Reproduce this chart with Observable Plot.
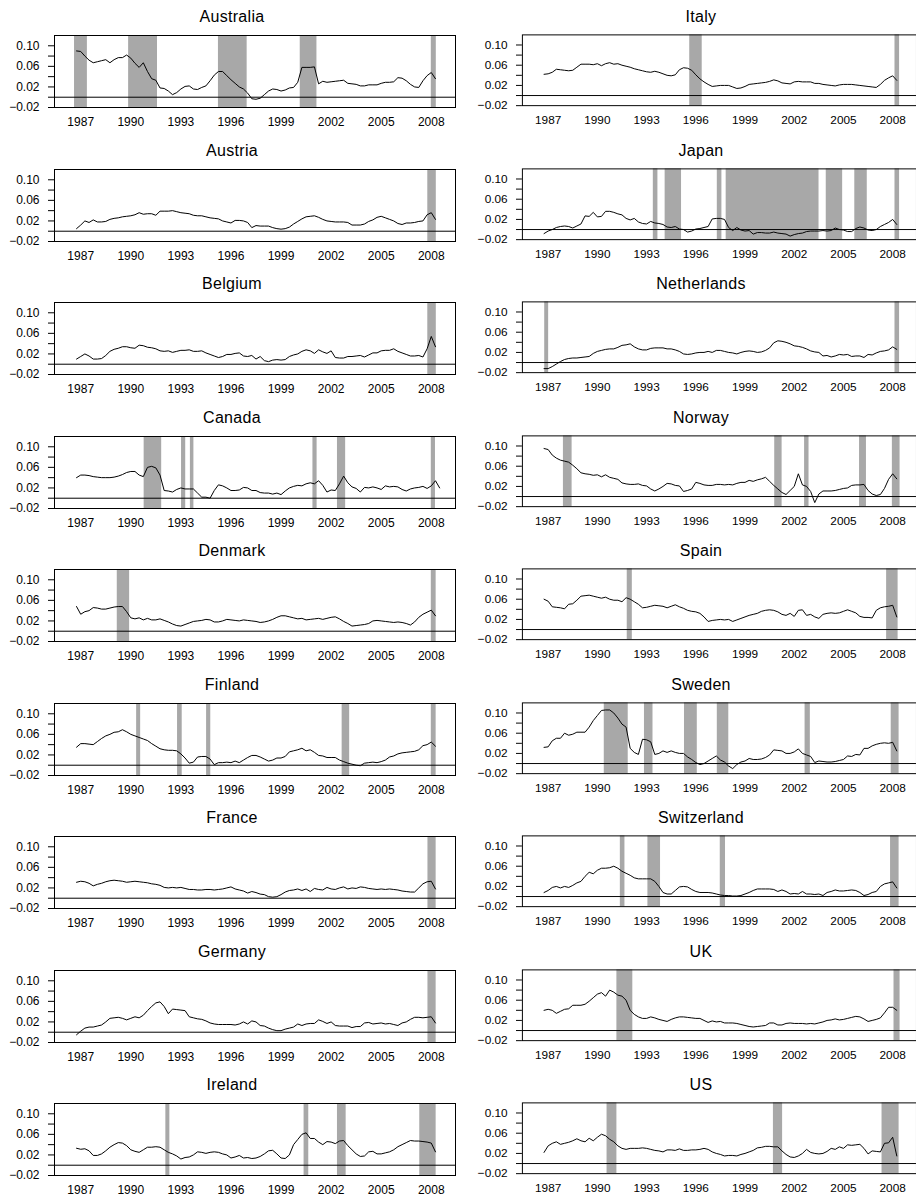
<!DOCTYPE html>
<html><head><meta charset="utf-8">
<script src="https://cdn.jsdelivr.net/npm/d3@7"></script>
<script src="https://cdn.jsdelivr.net/npm/@observablehq/plot@0.6"></script>
<style>
html,body{margin:0;padding:0;background:#fff;overflow:hidden;}
#root{position:relative;width:916px;height:1198px;overflow:hidden;font-family:"Liberation Sans",Arial,sans-serif;}
.panel{position:absolute;}
.title{position:absolute;width:300px;text-align:center;font-size:16px;line-height:18px;color:#000;letter-spacing:0.3px;}
</style></head>
<body><div id="root"></div>
<script>
// Quarterly series, values in thousandths (x1000), first quarter 1986Q4 (1986.75)
const firstQuarter = 1986.75;
const xTicks = [1987, 1990, 1993, 1996, 1999, 2002, 2005, 2008];
const yTicks = [-0.02, 0, 0.02, 0.04, 0.06, 0.08, 0.10];
const yLabels = [-0.02, 0.02, 0.06, 0.10];

const australia = [90, 89,80,72,67, 69,71,73,67, 73,77,77,82, 76,66,58,67, 50,36,33,18, 17,12,5,9, 16,21,22,16, 15,19,22,32, 43,50,50,42, 34,27,20,16, 8,-3,-4,-2, 5,12,16,15, 12,14,18,19, 29,58,58,58, 59,26,31,29, 30,31,32,33, 27,26,25,22, 22,24,24,24, 27,29,29,30, 38,37,32,25, 20,19,32,42, 48,36];
const austria = [5, 12,20,17,22, 18,18,19,23, 25,26,28,29, 30,32,36,33, 34,34,31,39, 39,39,40,38, 36,35,34,31, 30,30,28,26, 25,24,20,18, 16,21,21,20, 17,7,11,10, 10,10,7,5, 4,5,8,14, 19,24,28,29, 30,27,23,20, 19,18,18,18, 17,12,12,12, 14,19,22,27, 29,26,23,20, 15,13,16,16, 17,19,20,32, 36,23];
const belgium = [10, 15,20,16,10, 10,11,17,25, 29,31,34,34, 32,31,37,36, 33,32,30,26, 25,26,23,25, 27,27,28,25, 25,26,22,19, 16,13,15,19, 19,21,22,16, 15,17,10,15, 7,5,8,9, 8,9,15,18, 20,25,28,26, 21,28,24,21, 26,13,12,12, 15,15,16,17, 14,18,22,22, 26,27,27,30, 25,22,19,16, 16,17,14,30, 54,34];
const canada = [40, 45,45,44,42, 41,40,40,40, 41,43,46,50, 52,52,45,42, 60,62,59,45, 15,14,12,17, 20,18,18,18, 10,2,2,0, 15,26,24,20, 15,15,16,21, 20,15,15,11, 10,10,8,10, 7,14,20,23, 25,24,28,30, 28,34,25,12, 16,15,28,43, 30,22,19,12, 21,20,22,20, 17,24,22,23, 22,17,14,18, 20,21,23,19, 24,34,20];
const denmark = [48, 33,38,40,46, 45,43,43,45, 47,48,48,38, 26,24,26,22, 25,22,22,24, 21,18,14,11, 10,13,16,19, 20,21,23,22, 18,18,20,23, 22,21,20,22, 21,20,19,17, 18,20,23,27, 30,30,28,26, 24,25,22,23, 24,25,23,25, 27,28,24,19, 15,10,11,12, 13,15,20,21, 20,19,18,17, 18,17,15,12, 18,27,33,37, 41,30];
const finland = [35, 42,42,41,40, 46,52,57,60, 64,65,69,65, 60,57,54,51, 48,42,37,32, 30,29,29,28, 22,14,4,6, 16,17,17,12, 1,5,5,6, 5,8,5,10, 15,19,19,16, 12,8,10,14, 14,17,26,28, 30,33,28,30, 25,19,18,15, 15,15,10,7, 4,2,0,-1, 4,5,6,5, 7,10,16,18, 22,24,25,26, 27,30,38,40, 45,37];
const france = [31, 33,32,29,24, 27,29,32,34, 35,34,33,31, 32,33,32,31, 30,28,27,25, 21,20,21,20, 21,19,17,17, 16,16,17,17, 16,17,18,20, 22,18,16,14, 10,13,11,8, 7,3,2,3, 7,12,15,16, 18,15,18,13, 19,17,16,21, 18,17,20,22, 18,20,19,22, 21,19,18,17, 18,17,18,17, 16,14,13,12, 12,20,28,32, 33,18];
const germany = [-5, 2,8,10,10, 12,14,20,27, 28,29,27,24, 27,30,28,33, 42,50,57,59, 50,36,45,44, 43,42,30,28, 26,25,22,18, 16,15,15,15, 15,14,16,20, 16,22,20,13, 12,8,5,3, 3,6,8,10, 16,13,16,17, 17,24,21,17, 20,13,12,12, 12,9,11,11, 18,19,16,17, 18,16,17,15, 13,18,20,25, 29,29,28,29, 30,18];
const ireland = [33, 31,32,28,19, 19,22,28,35, 40,44,43,38, 30,27,25,30, 35,35,36,35, 30,25,22,18, 12,15,16,20, 26,25,23,25, 26,25,22,20, 14,16,19,14, 15,13,14,17, 22,28,29,22, 14,13,20,40, 50,60,63,52, 52,45,40,46, 45,42,47,48, 38,30,22,17, 18,26,27,22, 22,24,26,30, 36,40,44,48, 47,47,46,45, 43,26];
const italy = [42, 43,46,52,51, 50,49,50,56, 62,62,62,61, 63,59,63,65, 62,63,60,58, 56,53,51,49, 47,46,48,46, 43,40,39,41, 51,55,54,50, 41,33,27,22, 18,19,20,20, 20,17,14,15, 18,22,23,24, 25,26,28,31, 29,25,24,23, 27,28,27,27, 27,24,24,22, 21,20,19,21, 22,22,22,21, 20,19,18,17, 16,22,30,35, 39,30];
const japan = [-8, -3,0,4,6, 7,6,3,7, 11,27,26,34, 25,26,36,36, 34,31,29,22, 19,22,15,12, 11,16,13,12, 10,5,4,6, 1,0,-5,-3, 1,2,4,6, 21,22,22,20, 4,-2,4,-1, -3,-2,-9,-6, -6,-7,-7,-5, -7,-8,-9,-13, -10,-8,-7,-4, -3,-3,-3,-2, -3,-2,3,0, -1,-4,-4,2, 5,3,-1,-2, 0,6,10,14, 20,10];
const netherlands = [-12, -12,-8,-3,2, 6,8,9,9, 10,11,12,18, 22,24,26,27, 27,30,34,35, 37,31,27,25, 25,28,29,29, 29,27,27,25, 22,17,16,17, 19,20,20,22, 20,24,24,22, 20,19,17,20, 22,23,22,20, 21,24,29,39, 43,42,40,37, 33,32,30,27, 23,21,20,13, 14,11,13,16, 15,16,12,13, 13,10,16,15, 19,22,23,25, 31,26];
const norway = [95, 93,82,76,72, 70,68,62,55, 47,45,44,42, 43,39,43,38, 36,34,27,25, 24,24,25,22, 21,15,11,15, 20,26,25,22, 21,10,12,15, 28,26,23,22, 22,24,24,23, 24,23,26,28, 28,32,30,33, 35,38,30,22, 15,8,4,12, 20,45,23,20, 10,-12,5,11, 11,11,12,14, 16,17,22,23, 23,24,12,5, 2,4,16,34, 45,35];
const spain = [60, 56,45,44,43, 41,50,51,58, 66,67,68,66, 64,62,64,60, 58,58,55,63, 60,55,50,43, 44,46,48,47, 46,43,46,49, 45,42,38,36, 35,32,25,16, 18,19,20,19, 20,16,19,22, 25,28,30,32, 36,38,39,38, 35,30,28,32, 26,38,39,28, 30,25,22,30, 32,33,32,33, 36,39,36,33, 26,24,24,23, 38,43,45,46, 48,25];
const sweden = [32, 33,45,50,50, 60,56,58,62, 62,62,72,85, 95,105,106,106, 100,90,78,72, 30,22,18,48, 47,43,18,20, 25,22,25,22, 20,20,13,8, 2,-2,0,5, 10,15,7,3, -5,-10,-2,3, 5,10,8,8, 9,12,17,27, 26,25,20,20, 23,29,20,17, 14,2,5,4, 3,3,4,6, 8,15,14,18, 17,30,30,35, 38,40,41,40, 42,25];
const switzerland = [8, 12,18,20,17, 20,18,22,27, 30,40,48,45, 52,56,56,57, 60,56,50,46, 42,37,35,35, 35,35,30,20, 8,5,5,12, 19,20,19,14, 10,8,8,8, 7,5,3,2, 2,1,1,2, 5,8,12,15, 15,15,15,14, 10,13,10,5, 6,5,10,5, 5,4,5,2, 8,10,13,11, 11,12,13,12, 8,2,4,8, 10,20,25,27, 29,17];
const uk = [40, 42,40,34,38, 42,43,50,50, 50,52,58,65, 72,75,68,80, 76,70,68,60, 40,32,27,24, 24,27,25,22, 20,18,22,25, 27,27,26,25, 24,24,20,16, 19,17,18,15, 15,15,14,12, 10,8,7,8, 9,10,15,15, 11,11,14,15, 14,14,14,13, 14,13,15,17, 20,21,23,21, 22,24,26,28, 27,23,18,20, 22,25,35,46, 46,40];
const us = [22, 35,40,43,38, 40,42,45,49, 45,43,50,45, 52,58,55,48, 43,35,30,28, 30,30,30,31, 30,28,26,25, 23,27,27,26, 29,26,26,27, 27,28,30,28, 23,20,18,15, 16,16,15,18, 20,23,26,31, 32,34,34,33, 33,25,18,13, 12,15,20,28, 22,20,19,20, 24,30,28,33, 30,37,36,37, 38,30,19,25, 24,23,40,41, 52,15];

// Shaded periods [start, end] in years
const australiaBands = [[1986.63,1987.40],[1989.87,1991.60],[1995.25,1996.97],[2000.15,2001.15],[2008.00,2008.30]];
const austriaBands = [[2007.79,2008.30]];
const belgiumBands = [[2007.79,2008.30]];
const canadaBands = [[1990.80,1991.85],[1993.04,1993.29],[1993.57,1993.78],[2000.91,2001.16],[2002.38,2002.87],[2008.00,2008.25]];
const denmarkBands = [[1989.19,1989.93],[2008.00,2008.29]];
const finlandBands = [[1990.35,1990.59],[1992.80,1993.08],[1994.54,1994.79],[2002.66,2003.11],[2008.00,2008.29]];
const franceBands = [[2007.80,2008.29]];
const germanyBands = [[2007.80,2008.29]];
const irelandBands = [[1992.10,1992.34],[2000.38,2000.66],[2002.38,2002.90],[2007.31,2008.29]];
const italyBands = [[1995.63,1996.39],[2008.14,2008.42]];
const japanBands = [[1993.41,1993.69],[1994.13,1995.13],[1997.31,1997.59],[1997.85,2003.51],[2003.95,2004.95],[2005.69,2006.45],[2008.14,2008.42]];
const netherlandsBands = [[1986.79,1987.03],[2008.14,2008.42]];
const norwayBands = [[1987.93,1988.46],[2000.81,2001.26],[2002.63,2002.90],[2005.98,2006.40],[2007.98,2008.45]];
const spainBands = [[1991.82,1992.13],[2007.63,2008.33]];
const swedenBands = [[1990.42,1991.88],[1992.87,1993.39],[1995.31,1996.09],[1997.31,1998.01],[2002.66,2002.98],[2007.91,2008.39]];
const switzerlandBands = [[1991.40,1991.68],[1993.08,1993.85],[1997.49,1997.81],[2007.87,2008.39]];
const ukBands = [[1991.19,1992.16],[2008.08,2008.45]];
const usBands = [[1990.59,1991.19],[2000.73,2001.29],[2007.35,2008.39]];

const leftColumn = [
  ["Australia", australia, australiaBands],
  ["Austria", austria, austriaBands],
  ["Belgium", belgium, belgiumBands],
  ["Canada", canada, canadaBands],
  ["Denmark", denmark, denmarkBands],
  ["Finland", finland, finlandBands],
  ["France", france, franceBands],
  ["Germany", germany, germanyBands],
  ["Ireland", ireland, irelandBands]
];
const rightColumn = [
  ["Italy", italy, italyBands],
  ["Japan", japan, japanBands],
  ["Netherlands", netherlands, netherlandsBands],
  ["Norway", norway, norwayBands],
  ["Spain", spain, spainBands],
  ["Sweden", sweden, swedenBands],
  ["Switzerland", switzerland, switzerlandBands],
  ["UK", uk, ukBands],
  ["US", us, usBands]
];

const root = document.getElementById("root");
const fmt = d3.format(".2f");

function makePanel(name, values, bands, col, row) {
  const data = values.map((v, i) => ({t: firstQuarter + i / 4, v: v / 1000}));
  const top = Math.round(row * 133.5);
  const left = col === 0 ? 0 : 458;
  const marginLeft = col === 0 ? 54 : 65;
  const width = col === 0 ? 460 : 466;
  const marginRight = col === 0 ? 5 : 0;
  const chart = Plot.plot({
    width, height: 134,
    marginLeft, marginRight, marginTop: 35, marginBottom: 27,
    x: {domain: [1985.43, 2009.45], label: null},
    y: {domain: [-0.02, 0.12], label: null},
    style: {fontFamily: '"Liberation Sans", Arial, sans-serif', fontSize: "12px", color: "#000", background: "transparent", overflow: "visible"},
    marks: [
      Plot.rect(bands, {x1: d => d[0], x2: d => d[1], fill: "#a8a8a8"}),
      Plot.ruleY([0], {stroke: "#000", strokeWidth: 1}),
      Plot.line(data, {x: "t", y: "v", stroke: "#000", strokeWidth: 1}),
      Plot.frame({stroke: "#000", strokeWidth: 1}),
      Plot.axisY(yTicks, {label: null, tickSize: 6, tickPadding: 9, tickFormat: d => yLabels.includes(d) ? fmt(d) : ""}),
      Plot.axisX(xTicks, {label: null, tickSize: 0, tickPadding: 10, tickFormat: d => String(d)})
    ]
  });
  const wrap = document.createElement("div");
  wrap.className = "panel";
  wrap.style.left = left + "px";
  wrap.style.top = top + "px";
  wrap.appendChild(chart);
  root.appendChild(wrap);
  const title = document.createElement("div");
  title.className = "title";
  title.textContent = name;
  const cx = col === 0 ? 232 : 701;
  title.style.left = (cx - 150) + "px";
  title.style.top = (top + 8) + "px";
  root.appendChild(title);
}

leftColumn.forEach(([n, v, b], i) => makePanel(n, v, b, 0, i));
rightColumn.forEach(([n, v, b], i) => makePanel(n, v, b, 1, i));
</script>
</body></html>
